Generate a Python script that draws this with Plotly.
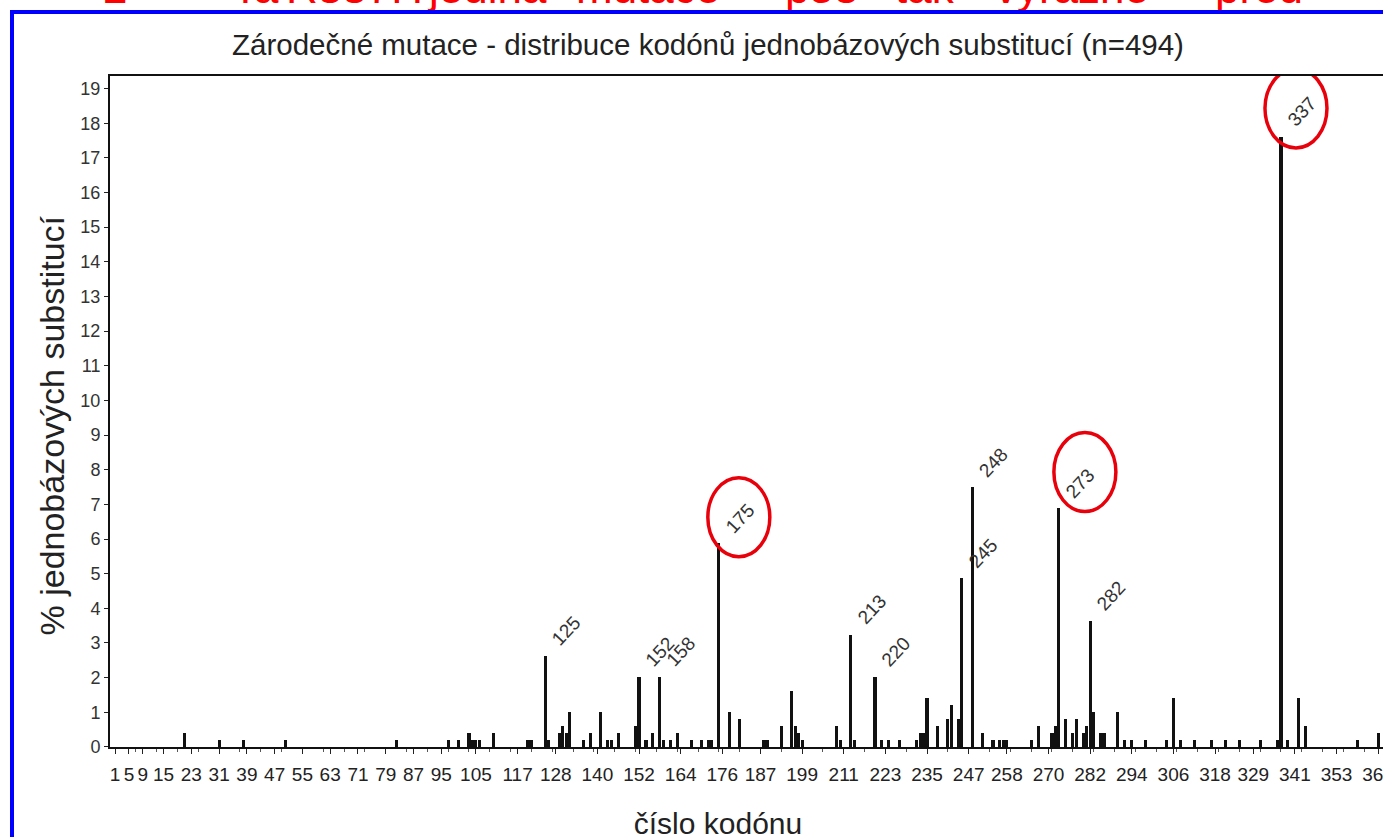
import plotly.graph_objects as go

# ---------------- data ----------------
codons = [21, 31, 38, 50, 82, 97, 100, 103, 104, 105, 106, 110, 120, 121,
          125, 126, 129, 130, 131, 132, 136, 138, 141, 143, 144, 146, 151,
          152, 154, 156, 158, 159, 161, 163, 167, 170, 172, 173, 175, 178,
          181, 188, 189, 193, 196, 197, 198, 199, 209, 210, 213, 214, 220,
          222, 224, 227, 232, 233, 234, 235, 238, 241, 242, 244, 245, 248,
          251, 254, 256, 257, 258, 265, 267, 271, 272, 273, 275, 277, 278,
          280, 281, 282, 283, 285, 286, 290, 292, 294, 298, 304, 306, 308,
          312, 317, 321, 325, 331, 336, 337, 339, 342, 344, 359, 365]
percent = [0.40, 0.20, 0.20, 0.20, 0.20, 0.20, 0.20, 0.40, 0.20, 0.20, 0.20, 0.40, 0.20, 0.20,
           2.63, 0.20, 0.40, 0.61, 0.40, 1.01, 0.20, 0.40, 1.01, 0.20, 0.20, 0.40, 0.61,
           2.02, 0.20, 0.40, 2.02, 0.20, 0.20, 0.40, 0.20, 0.20, 0.20, 0.20, 5.87, 1.01,
           0.81, 0.20, 0.20, 0.61, 1.62, 0.61, 0.40, 0.20, 0.61, 0.20, 3.24, 0.20, 2.02,
           0.20, 0.20, 0.20, 0.20, 0.40, 0.40, 1.42, 0.61, 0.81, 1.21, 0.81, 4.86, 7.49,
           0.40, 0.20, 0.20, 0.20, 0.20, 0.20, 0.61, 0.40, 0.61, 6.88, 0.81, 0.40, 0.81,
           0.40, 0.61, 3.64, 1.01, 0.40, 0.40, 1.01, 0.20, 0.20, 0.20, 0.20, 1.42, 0.20,
           0.20, 0.20, 0.20, 0.20, 0.20, 0.20, 17.61, 0.20, 1.42, 0.61, 0.20, 0.40]

labelled_codons = [125, 152, 158, 175, 213, 220, 245, 248, 273, 282, 337]
circled_codons = [175, 273, 337]
circle_dx = [20, 26, 15]      # pixel offset of the hand-drawn circle centre
circle_dy = [26, 36, 28]

x_tick_values = [1, 5, 9, 15, 23, 31, 39, 47, 55, 63, 71, 79, 87, 95, 105, 117, 128,
                 140, 152, 164, 176, 187, 199, 211, 223, 235, 247, 258, 270, 282,
                 294, 306, 318, 329, 341, 353, 365]
y_tick_values = list(range(0, 20))

title_text = "Zárodečné mutace - distribuce kodónů jednobázových substitucí (n=494)"
x_title = "číslo kodónu"
y_title = "% jednobázových substitucí"
slide_words = ["2", "Ta", "R337H", "jediná", "mutace", "p53", "tak", "výrazně", "před"]
slide_word_x = [103, 232, 286, 429, 576, 785, 895, 995, 1215]

# ---------------- layout geometry ----------------
W = 1383
TARGET_H = 837
S = 848 / 837            # the page is photographed slightly squeezed vertically
H = round(TARGET_H * S)
PL, PR, PT, PB = 110, 1383, 76, 746   # plot area in (target) pixels
X_RANGE = [-0.45, 366.4]
BOTTOM_STRIP = 752                    # clipped strip for texts cut by the picture edge
TOP_STRIP = 12
FONT = "Liberation Sans, Arial, sans-serif"


def px_x(p):
    return p / W


def px_y(p):
    return (H - p * S) / H


fig = go.Figure()

fig.add_trace(go.Bar(
    x=codons, y=percent, width=0.9,
    marker=dict(color="#111111", line=dict(width=0)),
    xaxis="x", yaxis="y", showlegend=False, hoverinfo="x+y",
))

# red slide text, partly hidden behind the chart picture (clipped to a thin strip)
fig.add_trace(go.Scatter(
    x=slide_word_x, y=[20.0] * len(slide_words), mode="text",
    text=slide_words, textposition="middle right",
    textfont=dict(family=FONT, size=44, color="#ff0000"),
    xaxis="x2", yaxis="y2", showlegend=False, cliponaxis=True, hoverinfo="skip",
))

# texts that are cut by the bottom / right edge of the picture
last_tick = x_tick_values[-1]
last_tick_px = PL + (last_tick - X_RANGE[0]) / (X_RANGE[1] - X_RANGE[0]) * (PR - PL)
fig.add_trace(go.Scatter(
    x=[718, last_tick_px],
    y=[TARGET_H - 826, TARGET_H - 775], mode="text",
    text=[x_title, str(last_tick)], textposition="middle center",
    textfont=dict(family=FONT, size=[30, 19], color="#222222"),
    xaxis="x3", yaxis="y3", showlegend=False, cliponaxis=True, hoverinfo="skip",
))

annotations = []
for c in labelled_codons:
    v = percent[codons.index(c)]
    annotations.append(dict(
        x=c, y=v, xref="x", yref="y", text=str(c), showarrow=False,
        textangle=-47, xshift=21, yshift=25 * S,
        font=dict(family=FONT, size=19, color="#333333"),
    ))

annotations.append(dict(x=px_x(708), y=px_y(44), xref="paper", yref="paper",
                        text=title_text, showarrow=False, xanchor="center", yanchor="middle",
                        font=dict(family=FONT, size=29.5, color="#222222")))
annotations.append(dict(x=px_x(52), y=px_y(425), xref="paper", yref="paper",
                        text=y_title, showarrow=False, xanchor="center", yanchor="middle",
                        textangle=-90,
                        font=dict(family=FONT, size=34, color="#222222")))

shapes = []
for c, dx, dy in zip(circled_codons, circle_dx, circle_dy):
    v = percent[codons.index(c)]
    shapes.append(dict(
        type="circle", xref="x", yref="y", xsizemode="pixel", ysizemode="pixel",
        xanchor=c, yanchor=v, x0=dx - 31, x1=dx + 31,
        y0=(dy - 39) * S, y1=(dy + 39) * S,
        line=dict(color="#e8000b", width=3.5),
    ))
# blue frame of the slide picture
shapes.append(dict(type="line", xref="paper", yref="paper",
                   x0=px_x(10), x1=1, y0=px_y(12), y1=px_y(12),
                   line=dict(color="#0000ff", width=4)))
shapes.append(dict(type="line", xref="paper", yref="paper",
                   x0=px_x(12), x1=px_x(12), y0=px_y(10), y1=0,
                   line=dict(color="#0000ff", width=4)))

fig.update_layout(
    width=W, height=H,
    margin=dict(l=0, r=0, t=0, b=0),
    paper_bgcolor="white", plot_bgcolor="rgba(0,0,0,0)",
    font=dict(family=FONT, color="#222222"),
    bargap=0,
    xaxis=dict(
        domain=[px_x(PL), px_x(PR)], anchor="y",
        range=X_RANGE,
        tickmode="array", tickvals=x_tick_values,
        ticktext=[str(t) for t in x_tick_values[:-1]] + [""],
        ticks="outside", ticklen=5, tickwidth=1, tickcolor="#222",
        ticklabelstandoff=4,
        tickfont=dict(family=FONT, size=19, color="#222222"),
        tickangle=0,
        showline=True, linewidth=2, linecolor="#111111", mirror=True,
        showgrid=False, zeroline=False, fixedrange=True,
        minor=dict(ticks="outside", ticklen=3, tick0=1, dtick=6, tickcolor="#555"),
    ),
    yaxis=dict(
        domain=[px_y(PB), px_y(PT)], anchor="x",
        range=[0, 19.36],
        tickmode="array", tickvals=y_tick_values,
        ticks="outside", ticklen=4, tickwidth=1, tickcolor="#222",
        tickfont=dict(family=FONT, size=18, color="#333333"),
        showline=True, linewidth=2, linecolor="#111111", mirror=False,
        showgrid=False, zeroline=False, fixedrange=True,
    ),
    xaxis2=dict(domain=[0, 1], anchor="y2", range=[0, W], visible=False, fixedrange=True),
    yaxis2=dict(domain=[px_y(TOP_STRIP), 1], anchor="x2", range=[0, TOP_STRIP],
                visible=False, fixedrange=True),
    xaxis3=dict(domain=[0, 1], anchor="y3", range=[0, W], visible=False, fixedrange=True),
    yaxis3=dict(domain=[0, px_y(BOTTOM_STRIP)], anchor="x3",
                range=[TARGET_H - H / S, TARGET_H - BOTTOM_STRIP],
                visible=False, fixedrange=True),
    annotations=annotations,
    shapes=shapes,
)

fig.write_html("out.html")
